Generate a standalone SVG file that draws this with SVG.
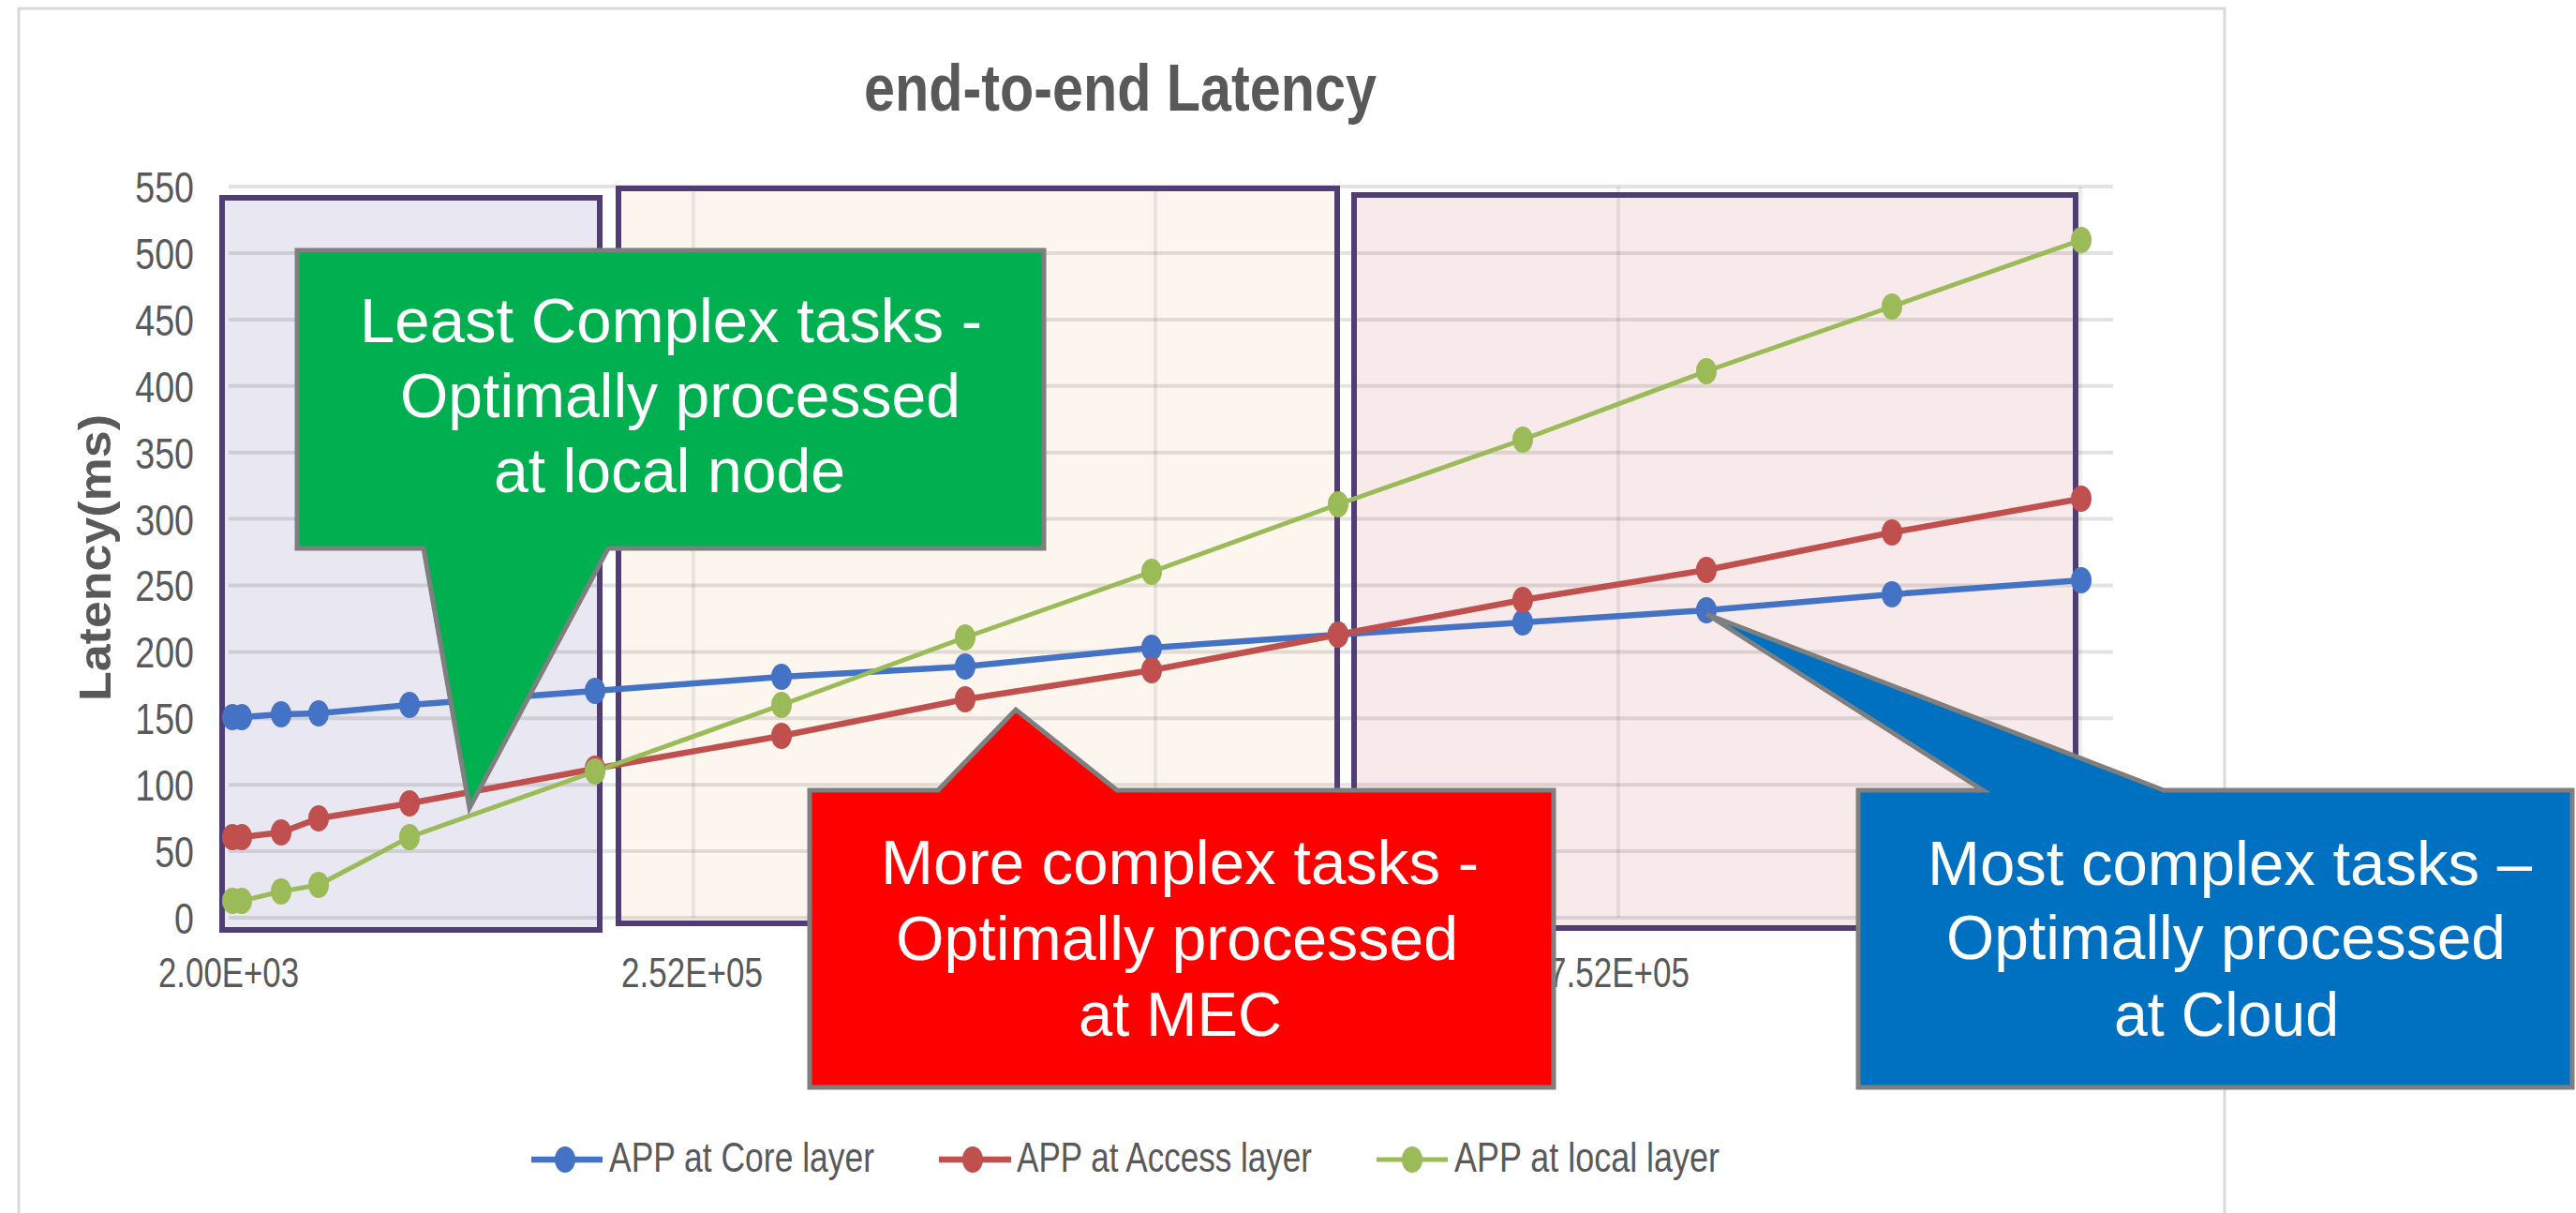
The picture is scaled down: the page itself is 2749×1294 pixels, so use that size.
<svg xmlns="http://www.w3.org/2000/svg" width="2749" height="1294" viewBox="0 0 2749 1294">
  <style>
    .txt { font-family: "Liberation Sans", Arial, sans-serif; }
    .title { font-size: 70px; font-weight: bold; fill: #595959; }
    .axis-title { font-size: 48px; font-weight: bold; fill: #595959; }
    .tick { font-size: 47px; fill: #595959; }
    .xtick { font-size: 45px; fill: #595959; }
    .legend-text { font-size: 44px; fill: #595959; }
    .callout-text { font-size: 66px; fill: #ffffff; }
    .grid { stroke: #000000; stroke-opacity: 0.11; stroke-width: 4; fill: none; }
    .vgrid { stroke: #000000; stroke-opacity: 0.07; stroke-width: 4; fill: none; }
    .region { stroke: #4f3d73; stroke-width: 6; }
    .callout { stroke: #7f7f7f; stroke-width: 5; stroke-linejoin: miter; }
    .s-core { stroke: #4472c4; fill: none; stroke-width: 6.5; stroke-linejoin: round; }
    .s-access { stroke: #c0504d; fill: none; stroke-width: 6.5; stroke-linejoin: round; }
    .s-local { stroke: #9bbb59; fill: none; stroke-width: 5; stroke-linejoin: round; }
    .m-core { fill: #4472c4; }
    .m-access { fill: #c0504d; }
    .m-local { fill: #9bbb59; }
  </style>
  <defs>
    <ellipse id="mk" cx="0" cy="0" rx="11" ry="14"/>
  </defs>

  <!-- page and chart frame -->
  <rect x="0" y="0" width="2749" height="1294" fill="#ffffff"/>
  <g id="chart-frame">
    <rect x="20" y="9" width="2354" height="1300" fill="#ffffff" stroke="#d9d9d9" stroke-width="3"/>
  </g>

  <!-- shaded complexity regions (fills) -->
  <g id="region-fills">
    <rect x="237" y="211" width="403" height="781" fill="#e9e7f1"/>
    <rect x="660" y="201" width="767" height="784" fill="#fdf6ef"/>
    <rect x="1445" y="208" width="770" height="782" fill="#f8eaea"/>
  </g>

  <!-- gridlines -->
  <g id="gridlines">
    <g class="grid">
      <line x1="244" y1="979" x2="2255" y2="979"/>
      <line x1="244" y1="908.1" x2="2255" y2="908.1"/>
      <line x1="244" y1="837.2" x2="2255" y2="837.2"/>
      <line x1="244" y1="766.3" x2="2255" y2="766.3"/>
      <line x1="244" y1="695.4" x2="2255" y2="695.4"/>
      <line x1="244" y1="624.5" x2="2255" y2="624.5"/>
      <line x1="244" y1="553.6" x2="2255" y2="553.6"/>
      <line x1="244" y1="482.7" x2="2255" y2="482.7"/>
      <line x1="244" y1="411.8" x2="2255" y2="411.8"/>
      <line x1="244" y1="340.9" x2="2255" y2="340.9"/>
      <line x1="244" y1="270" x2="2255" y2="270"/>
      <line x1="244" y1="199.1" x2="2255" y2="199.1"/>
    </g>
    <g class="vgrid">
      <line x1="740" y1="199" x2="740" y2="979"/>
      <line x1="1233" y1="199" x2="1233" y2="979"/>
      <line x1="1727" y1="199" x2="1727" y2="979"/>
      <line x1="2220" y1="199" x2="2220" y2="979"/>
    </g>
  </g>

  <!-- region borders -->
  <g id="regions" fill="none">
    <rect class="region" x="237" y="211" width="403" height="781"/>
    <rect class="region" x="660" y="201" width="767" height="784"/>
    <rect class="region" x="1445" y="208" width="770" height="782"/>
  </g>

  <!-- title and axes -->
  <g id="title">
    <text class="txt title" x="922" y="118" textLength="547" lengthAdjust="spacingAndGlyphs">end-to-end Latency</text>
  </g>
  <g id="y-axis">
    <text class="txt axis-title" transform="translate(118 748) rotate(-90)" x="0" y="0" textLength="306" lengthAdjust="spacingAndGlyphs">Latency(ms)</text>
    <g transform="translate(207 0) scale(0.8 1)">
      <text class="txt tick" x="0" y="996" text-anchor="end">0</text>
      <text class="txt tick" x="0" y="925" text-anchor="end">50</text>
      <text class="txt tick" x="0" y="854" text-anchor="end">100</text>
      <text class="txt tick" x="0" y="783" text-anchor="end">150</text>
      <text class="txt tick" x="0" y="712" text-anchor="end">200</text>
      <text class="txt tick" x="0" y="641" text-anchor="end">250</text>
      <text class="txt tick" x="0" y="571" text-anchor="end">300</text>
      <text class="txt tick" x="0" y="500" text-anchor="end">350</text>
      <text class="txt tick" x="0" y="429" text-anchor="end">400</text>
      <text class="txt tick" x="0" y="358" text-anchor="end">450</text>
      <text class="txt tick" x="0" y="287" text-anchor="end">500</text>
      <text class="txt tick" x="0" y="216" text-anchor="end">550</text>
    </g>
  </g>
  <g id="x-axis">
    <text class="txt xtick" x="169" y="1053" textLength="150" lengthAdjust="spacingAndGlyphs">2.00E+03</text>
    <text class="txt xtick" x="663" y="1053" textLength="151" lengthAdjust="spacingAndGlyphs">2.52E+05</text>
    <text class="txt xtick" x="1652" y="1053" textLength="151" lengthAdjust="spacingAndGlyphs">7.52E+05</text>
  </g>

  <!-- data series -->
  <g id="series">
    <polyline class="s-core" points="248,765 258,765 300,762 340,761 437,752 635,737 834,722 1030,711 1229,691 1428,677 1625,664 1821,651 2019,634 2221,619"/>
    <polyline class="s-access" points="248,893 258,893 300,888 340,873 437,857 635,820 834,785 1030,746 1229,715 1428,677 1625,640 1821,608 2019,568 2221,532"/>
    <polyline class="s-local" points="248,961 258,961 300,951 340,944 437,893 635,823 834,752 1030,680 1229,610 1428,538 1625,469 1821,396 2019,327 2221,256"/>
    <g class="m-core">
      <use href="#mk" x="248" y="765"/><use href="#mk" x="258" y="765"/><use href="#mk" x="300" y="762"/>
      <use href="#mk" x="340" y="761"/><use href="#mk" x="437" y="752"/><use href="#mk" x="635" y="737"/>
      <use href="#mk" x="834" y="722"/><use href="#mk" x="1030" y="711"/><use href="#mk" x="1229" y="691"/>
      <use href="#mk" x="1428" y="677"/><use href="#mk" x="1625" y="664"/><use href="#mk" x="1821" y="651"/>
      <use href="#mk" x="2019" y="634"/><use href="#mk" x="2221" y="619"/>
    </g>
    <g class="m-access">
      <use href="#mk" x="248" y="893"/><use href="#mk" x="258" y="893"/><use href="#mk" x="300" y="888"/>
      <use href="#mk" x="340" y="873"/><use href="#mk" x="437" y="857"/><use href="#mk" x="635" y="820"/>
      <use href="#mk" x="834" y="785"/><use href="#mk" x="1030" y="746"/><use href="#mk" x="1229" y="715"/>
      <use href="#mk" x="1428" y="677"/><use href="#mk" x="1625" y="640"/><use href="#mk" x="1821" y="608"/>
      <use href="#mk" x="2019" y="568"/><use href="#mk" x="2221" y="532"/>
    </g>
    <g class="m-local">
      <use href="#mk" x="248" y="961"/><use href="#mk" x="258" y="961"/><use href="#mk" x="300" y="951"/>
      <use href="#mk" x="340" y="944"/><use href="#mk" x="437" y="893"/><use href="#mk" x="635" y="823"/>
      <use href="#mk" x="834" y="752"/><use href="#mk" x="1030" y="680"/><use href="#mk" x="1229" y="610"/>
      <use href="#mk" x="1428" y="538"/><use href="#mk" x="1625" y="469"/><use href="#mk" x="1821" y="396"/>
      <use href="#mk" x="2019" y="327"/><use href="#mk" x="2221" y="256"/>
    </g>
  </g>

  <!-- legend -->
  <g id="legend">
    <line x1="567" y1="1237" x2="643" y2="1237" class="s-core"/>
    <use href="#mk" x="603" y="1237" class="m-core"/>
    <text class="txt legend-text" x="650" y="1250" textLength="283" lengthAdjust="spacingAndGlyphs">APP at Core layer</text>
    <line x1="1002" y1="1237" x2="1079" y2="1237" class="s-access"/>
    <use href="#mk" x="1038" y="1237" class="m-access"/>
    <text class="txt legend-text" x="1085" y="1250" textLength="315" lengthAdjust="spacingAndGlyphs">APP at Access layer</text>
    <line x1="1469" y1="1237" x2="1545" y2="1237" class="s-local"/>
    <use href="#mk" x="1507" y="1237" class="m-local"/>
    <text class="txt legend-text" x="1552" y="1250" textLength="283" lengthAdjust="spacingAndGlyphs">APP at local layer</text>
  </g>

  <!-- callout: local node -->
  <g id="callout-local">
    <polygon class="callout" fill="#00b050" points="317,267 1114,267 1114,585 649,585 501,862 452,585 317,585"/>
    <text class="txt callout-text" x="384" y="365" textLength="664" lengthAdjust="spacingAndGlyphs">Least Complex tasks -</text>
    <text class="txt callout-text" x="427" y="445" textLength="598" lengthAdjust="spacingAndGlyphs">Optimally processed</text>
    <text class="txt callout-text" x="527" y="525" textLength="375" lengthAdjust="spacingAndGlyphs">at local node</text>
  </g>

  <!-- callout: MEC -->
  <g id="callout-mec">
    <polygon class="callout" fill="#ff0000" points="864,843 1001,843 1084,757 1192,843 1658,843 1658,1160 864,1160"/>
    <text class="txt callout-text" x="940" y="943" textLength="638" lengthAdjust="spacingAndGlyphs">More complex tasks -</text>
    <text class="txt callout-text" x="956" y="1024" textLength="600" lengthAdjust="spacingAndGlyphs">Optimally processed</text>
    <text class="txt callout-text" x="1151" y="1105" textLength="217" lengthAdjust="spacingAndGlyphs">at MEC</text>
  </g>

  <!-- callout: cloud -->
  <g id="callout-cloud">
    <polygon class="callout" fill="#0070c0" points="1983,843 2116,843 1821,655 2309,843 2745,843 2745,1160 1983,1160"/>
    <text class="txt callout-text" x="2057" y="944" textLength="645" lengthAdjust="spacingAndGlyphs">Most complex tasks –</text>
    <text class="txt callout-text" x="2077" y="1023" textLength="597" lengthAdjust="spacingAndGlyphs">Optimally processed</text>
    <text class="txt callout-text" x="2256" y="1105" textLength="240" lengthAdjust="spacingAndGlyphs">at Cloud</text>
  </g>
</svg>
